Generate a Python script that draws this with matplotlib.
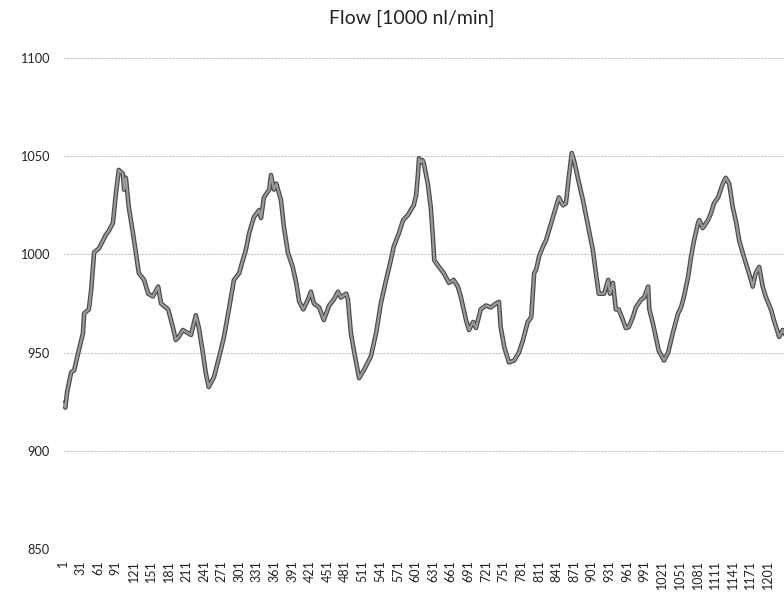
import matplotlib
matplotlib.use("Agg")
import matplotlib.pyplot as plt
import matplotlib.patheffects as pe

# Sample index (category number) and flow value
samples = [1, 5, 8, 15, 20, 27, 35, 37, 45, 49, 54, 62, 69, 74, 79, 86, 91, 96,
           103, 105, 108, 113, 120, 125, 130, 139, 146, 154, 163, 168, 180, 188,
           193, 198, 205, 219, 227, 232, 239, 244, 249, 258, 267, 275, 284, 292,
           301, 307, 312, 318, 326, 335, 338, 343, 352, 355, 360, 364, 372, 377,
           384, 392, 398, 403, 410, 418, 423, 428, 437, 445, 454, 462, 469, 474,
           483, 486, 491, 496, 505, 513, 525, 534, 542, 551, 559, 564, 573, 580,
           588, 593, 598, 602, 605, 607, 610, 613, 615, 622, 627, 631, 633, 641,
           649, 658, 666, 673, 678, 687, 692, 699, 704, 712, 721, 729, 738, 743,
           746, 752, 760, 769, 777, 784, 792, 798, 803, 806, 809, 811, 818, 823,
           828, 837, 845, 852, 857, 862, 867, 872, 878, 886, 895, 903, 908, 913,
           922, 929, 932, 937, 942, 947, 954, 959, 964, 971, 976, 985, 990, 997,
           999, 1005, 1010, 1015, 1024, 1031, 1039, 1048, 1053, 1058, 1065, 1070,
           1075, 1082, 1084, 1090, 1099, 1104, 1109, 1116, 1124, 1129, 1135, 1141,
           1147, 1152, 1160, 1167, 1172, 1175, 1180, 1186, 1192, 1197, 1206, 1211,
           1220, 1226, 1233]
flow = [924, 922, 930, 940, 941, 950, 960, 970, 972, 982, 1001, 1003, 1007, 1010,
        1012, 1016, 1031, 1043, 1041, 1033, 1039, 1024, 1011, 1001, 990.5, 987,
        980, 978.6, 983.6, 975, 972, 963, 956.4, 958, 961.5, 959, 969, 963, 950,
        939.6, 932.5, 937.6, 948, 958, 973, 987, 990.5, 997, 1002, 1011, 1019,
        1022.6, 1018.5, 1029, 1033, 1040.4, 1033, 1036, 1027.7, 1014, 1000.7,
        993.6, 985.5, 976, 972, 977, 981, 975, 973, 966.6, 974, 977, 981, 978,
        980, 977, 960, 951.3, 937, 941, 948, 960, 975, 987, 997, 1004, 1011,
        1017.5, 1020, 1022.6, 1025, 1030, 1040, 1049, 1047, 1048, 1046.5, 1036,
        1024, 1007, 997, 993.6, 990.5, 985.5, 987, 983.6, 978.6, 966.6, 961.5,
        965.6, 962.5, 972, 974, 973, 975, 975.8, 963, 953, 945, 946, 950, 956.4,
        965.6, 968, 990.5, 992, 995.6, 998.7, 1004, 1007, 1012, 1021, 1029, 1025,
        1026, 1039.4, 1051.6, 1046.5, 1038, 1027.7, 1014, 1002, 990.5, 980, 980,
        987, 980, 985.5, 972, 972, 966.6, 962.5, 963, 968, 973, 977, 978, 983.6,
        972, 965, 958, 951, 946, 950, 960, 970, 973, 978.6, 988.5, 998.7, 1007,
        1016, 1017.5, 1013.4, 1017.5, 1021, 1026, 1029, 1036, 1039, 1036, 1024,
        1016, 1007, 998.7, 992, 987, 983.6, 990.5, 993.6, 983.6, 978.6, 972,
        966.6, 958, 961.5, 958]
x_ticks = list(range(1, 1202, 30))
y_ticks = [850, 900, 950, 1000, 1050, 1100]
title = "Flow [1000 nl/min]"

W, H = 784, 593
fig = plt.figure(figsize=(W / 100, H / 100), dpi=100)
left, right, top, bottom = 63, 784, 58, 549
ax = fig.add_axes([left / W, 1 - bottom / H, (right - left) / W, (bottom - top) / H])

ax.plot(samples, flow, color="#9a9a9a", lw=1.6, solid_joinstyle="round",
        path_effects=[pe.Stroke(linewidth=3.3, foreground="#4a4a4a"), pe.Normal()],
        zorder=3)

ax.set_xlim(1, (right - left) / 0.5875 + 1)
ax.set_ylim(850, 1100)
ax.set_yticks(y_ticks)
ax.set_xticks(x_ticks)
ax.set_xticklabels([str(t) for t in x_ticks], rotation=90, fontsize=9,
                   family="Lato", color="#222222")
ax.set_yticklabels([str(t) for t in y_ticks], fontsize=9.2, family="Lato",
                   color="#222222")
ax.tick_params(axis="x", length=0, pad=8)
ax.tick_params(axis="y", length=0, pad=9.5)
for s in ax.spines.values():
    s.set_visible(False)
ax.grid(axis="y", color="#c4c4c4", lw=0.7, linestyle=(0, (2.5, 1)))
ax.set_axisbelow(True)

fig.text(412 / W, 1 - 18 / H, title, ha="center", va="center", fontsize=14,
         family="Lato", color="#222222")

fig.savefig("out.png", dpi=100)
